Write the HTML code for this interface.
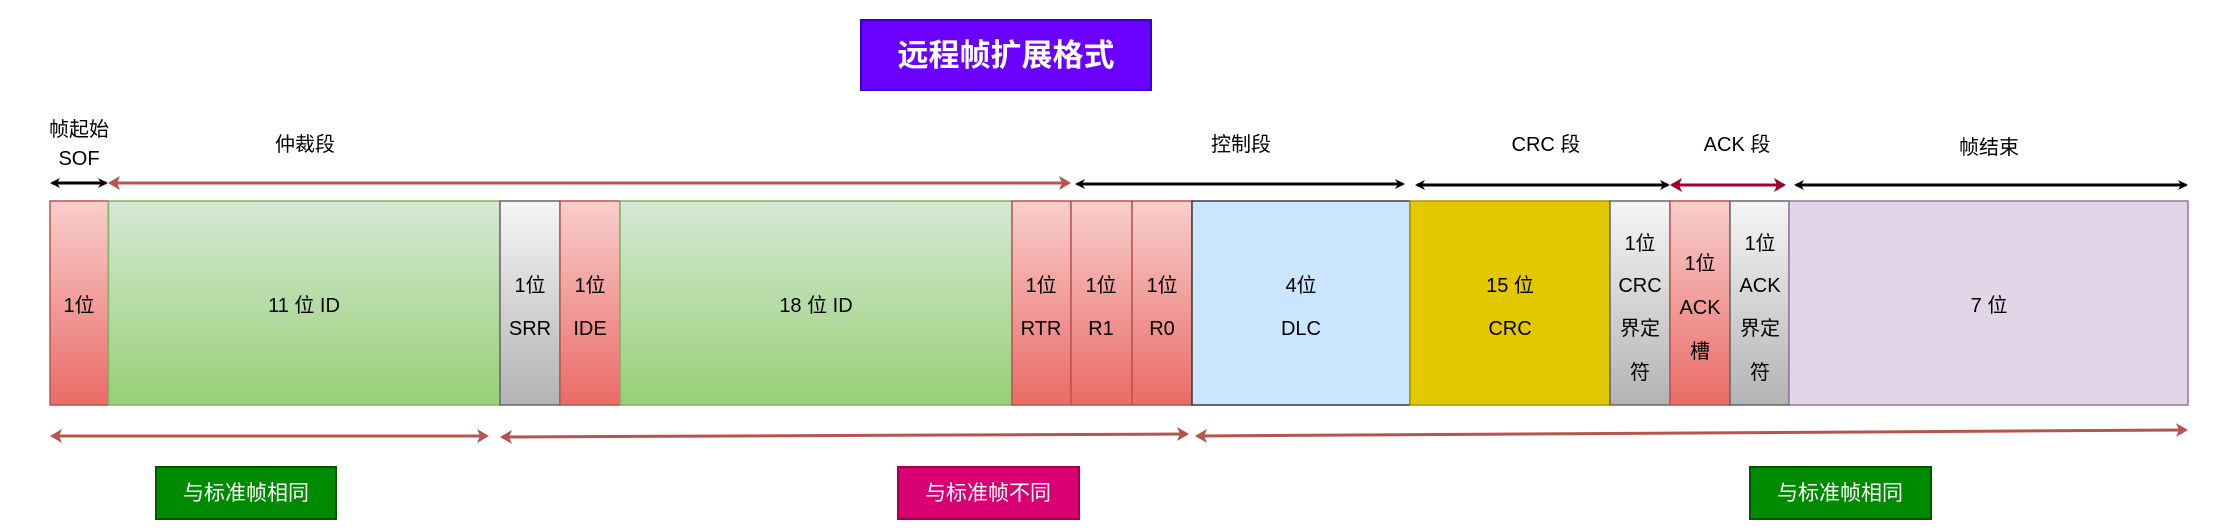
<!DOCTYPE html>
<html><head><meta charset="utf-8"><style>
html,body{margin:0;padding:0;background:#fff;}
svg{display:block;}
text{font-family:"Liberation Sans","Noto Sans CJK SC",sans-serif;}
</style></head><body>
<svg width="2232" height="532" viewBox="0 0 2232 532" xmlns="http://www.w3.org/2000/svg">
<defs>
<linearGradient id="r" x1="0" y1="0" x2="0" y2="1"><stop offset="0" stop-color="#f8cecc"/><stop offset="1" stop-color="#ea6b66"/></linearGradient>
<linearGradient id="g" x1="0" y1="0" x2="0" y2="1"><stop offset="0" stop-color="#d5e8d4"/><stop offset="1" stop-color="#97d077"/></linearGradient>
<linearGradient id="s" x1="0" y1="0" x2="0" y2="1"><stop offset="0" stop-color="#f5f5f5"/><stop offset="1" stop-color="#b3b3b3"/></linearGradient>
<marker id="ab" markerWidth="10" markerHeight="10" refX="8" refY="5" orient="auto-start-reverse" markerUnits="userSpaceOnUse"><path d="M0,0 L10,5 L0,10 L3,5 Z" fill="#000"/></marker>
<marker id="ar" markerWidth="12" markerHeight="14" refX="10" refY="7" orient="auto-start-reverse" markerUnits="userSpaceOnUse"><path d="M0,0 L12,7 L0,14 L3,7 Z" fill="#b85450"/></marker>
<marker id="ac" markerWidth="12" markerHeight="14" refX="10" refY="7" orient="auto-start-reverse" markerUnits="userSpaceOnUse"><path d="M0,0 L12,7 L0,14 L3,7 Z" fill="#a20025"/></marker>
</defs>

<!-- title -->
<rect x="861" y="20" width="290" height="70" fill="#6a00ff" stroke="#3700cc" stroke-width="2"/>
<text x="1006" y="66" font-size="31" fill="#fff" text-anchor="middle" font-weight="bold">远程帧扩展格式</text>

<!-- top labels -->
<g font-size="20" fill="#000" text-anchor="middle">
<text x="79" y="136">帧起始</text>
<text x="79" y="165">SOF</text>
<text x="305" y="151">仲裁段</text>
<text x="1241" y="151">控制段</text>
<text x="1546" y="151">CRC 段</text>
<text x="1737" y="151">ACK 段</text>
<text x="1989" y="154">帧结束</text>
</g>

<!-- top arrows -->
<line x1="52" y1="183" x2="106" y2="183" stroke="#000" stroke-width="3" marker-start="url(#ab)" marker-end="url(#ab)"/>
<line x1="110" y1="183" x2="1069" y2="183" stroke="#b85450" stroke-width="3" marker-start="url(#ar)" marker-end="url(#ar)"/>
<line x1="1077" y1="184" x2="1403" y2="184" stroke="#000" stroke-width="3" marker-start="url(#ab)" marker-end="url(#ab)"/>
<line x1="1417" y1="185" x2="1668" y2="185" stroke="#000" stroke-width="3" marker-start="url(#ab)" marker-end="url(#ab)"/>
<line x1="1672" y1="185" x2="1784" y2="185" stroke="#a20025" stroke-width="3" marker-start="url(#ac)" marker-end="url(#ac)"/>
<line x1="1796" y1="185" x2="2186" y2="185" stroke="#000" stroke-width="3" marker-start="url(#ab)" marker-end="url(#ab)"/>

<!-- cells -->
<g stroke-width="1.5">
<rect x="50" y="201" width="58.5" height="204" fill="url(#r)" stroke="#b85450"/>
<rect x="108.5" y="201" width="391.5" height="204" fill="url(#g)" stroke="#82b366"/>
<rect x="500" y="201" width="60" height="204" fill="url(#s)" stroke="#666"/>
<rect x="560" y="201" width="60" height="204" fill="url(#r)" stroke="#b85450"/>
<rect x="620" y="201" width="392" height="204" fill="url(#g)" stroke="#82b366"/>
<rect x="1012" y="201" width="59" height="204" fill="url(#r)" stroke="#b85450"/>
<rect x="1071" y="201" width="61" height="204" fill="url(#r)" stroke="#b85450"/>
<rect x="1132" y="201" width="60" height="204" fill="url(#r)" stroke="#b85450"/>
<rect x="1192" y="201" width="218" height="204" fill="#cce5ff" stroke="#36393d"/>
<rect x="1410" y="201" width="200" height="204" fill="#e3c800" stroke="#b09500"/>
<rect x="1610" y="201" width="60" height="204" fill="url(#s)" stroke="#666"/>
<rect x="1670" y="201" width="60" height="204" fill="url(#r)" stroke="#b85450"/>
<rect x="1730" y="201" width="59" height="204" fill="url(#s)" stroke="#666"/>
<rect x="1789" y="201" width="399" height="204" fill="#e1d5e7" stroke="#9673a6"/>
</g>

<g font-size="20" fill="#000" text-anchor="middle">
<text x="79" y="312">1位</text>
<text x="304" y="312">11 位 ID</text>
<text x="530" y="292">1位</text><text x="530" y="335">SRR</text>
<text x="590" y="292">1位</text><text x="590" y="335">IDE</text>
<text x="816" y="312">18 位 ID</text>
<text x="1041" y="292">1位</text><text x="1041" y="335">RTR</text>
<text x="1101" y="292">1位</text><text x="1101" y="335">R1</text>
<text x="1162" y="292">1位</text><text x="1162" y="335">R0</text>
<text x="1301" y="292">4位</text><text x="1301" y="335">DLC</text>
<text x="1510" y="292">15 位</text><text x="1510" y="335">CRC</text>
<text x="1640" y="250">1位</text><text x="1640" y="292">CRC</text><text x="1640" y="335">界定</text><text x="1640" y="379">符</text>
<text x="1700" y="270">1位</text><text x="1700" y="314">ACK</text><text x="1700" y="358">槽</text>
<text x="1760" y="250">1位</text><text x="1760" y="292">ACK</text><text x="1760" y="335">界定</text><text x="1760" y="379">符</text>
<text x="1989" y="312">7 位</text>
</g>

<!-- bottom arrows -->
<line x1="52" y1="436" x2="487" y2="436" stroke="#b85450" stroke-width="3" marker-start="url(#ar)" marker-end="url(#ar)"/>
<line x1="502" y1="437" x2="1187" y2="434" stroke="#b85450" stroke-width="3" marker-start="url(#ar)" marker-end="url(#ar)"/>
<line x1="1197" y1="436" x2="2186" y2="430" stroke="#b85450" stroke-width="3" marker-start="url(#ar)" marker-end="url(#ar)"/>

<!-- bottom labels -->
<rect x="156" y="467" width="180" height="52" fill="#008a00" stroke="#005700" stroke-width="2"/>
<text x="246" y="500" font-size="21" fill="#fff" text-anchor="middle">与标准帧相同</text>
<rect x="898" y="467" width="181" height="52" fill="#d80073" stroke="#a50040" stroke-width="2"/>
<text x="988" y="500" font-size="21" fill="#fff" text-anchor="middle">与标准帧不同</text>
<rect x="1750" y="467" width="181" height="52" fill="#008a00" stroke="#005700" stroke-width="2"/>
<text x="1840" y="500" font-size="21" fill="#fff" text-anchor="middle">与标准帧相同</text>
</svg>
</body></html>
